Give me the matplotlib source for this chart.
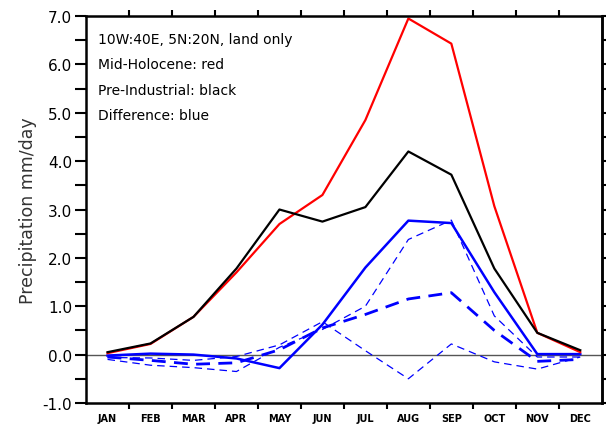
import numpy as np
import matplotlib
matplotlib.use("Agg")
import matplotlib.pyplot as plt
from matplotlib.ticker import MultipleLocator, FixedLocator

# monthly precipitation, mm/day
months = ["JAN", "FEB", "MAR", "APR", "MAY", "JUN", "JUL", "AUG", "SEP", "OCT", "NOV", "DEC"]
mid_holocene = [0.03, 0.22, 0.78, 1.70, 2.70, 3.30, 4.85, 6.95, 6.43, 3.07, 0.45, 0.05]
pre_industrial = [0.05, 0.23, 0.78, 1.78, 3.00, 2.75, 3.05, 4.20, 3.72, 1.78, 0.45, 0.09]
difference = [-0.02, 0.02, 0.00, -0.08, -0.28, 0.62, 1.80, 2.77, 2.72, 1.29, 0.01, 0.01]
diff_dash_thick = [-0.05, -0.12, -0.20, -0.17, 0.10, 0.55, 0.83, 1.15, 1.28, 0.50, -0.14, -0.10]
diff_dash_a = [-0.10, -0.22, -0.27, -0.35, 0.15, 0.52, 1.00, 2.38, 2.78, 0.80, -0.05, -0.05]
diff_dash_b = [-0.06, -0.07, -0.12, -0.04, 0.20, 0.68, 0.08, -0.50, 0.22, -0.15, -0.30, -0.05]

x = np.arange(len(months))

fig = plt.figure(figsize=(6.06, 4.27), dpi=100)
ax = fig.add_axes([0.142, 0.054, 0.851, 0.906])

ax.axhline(0, color="#555555", lw=1.0, zorder=1)

ax.plot(x, diff_dash_a, color="blue", lw=0.9, dashes=(6, 4))
ax.plot(x, diff_dash_b, color="blue", lw=0.9, dashes=(6, 4))
ax.plot(x, diff_dash_thick, color="blue", lw=2.0, dashes=(5, 3))
ax.plot(x, difference, color="blue", lw=1.8)
ax.plot(x, mid_holocene, color="red", lw=1.6)
ax.plot(x, pre_industrial, color="black", lw=1.6)

ax.set_xlim(-0.5, 11.5)
ax.set_ylim(-1.0, 7.0)

for s in ax.spines.values():
    s.set_linewidth(1.8)

# y axis ticks: long outward on the left, short on the right
ax.set_yticks(np.arange(-1, 8, 1.0))
ax.set_yticklabels(["%.1f" % v for v in np.arange(-1, 8, 1.0)], fontsize=11)
ax.yaxis.set_minor_locator(MultipleLocator(0.5))
ax.tick_params(axis="y", which="both", direction="out", length=8, width=1.5,
               right=False, pad=2)
ay = ax.secondary_yaxis("right")
ay.set_yticks(np.arange(-1, 7.5, 0.5))
ay.set_yticklabels([])
ay.tick_params(direction="out", length=4, width=1.5)
ay.spines["right"].set_linewidth(1.8)

# x axis: labels at month centres, ticks at month boundaries
ax.set_xticks(x)
ax.set_xticklabels(months, fontsize=7, fontweight="bold")
ax.tick_params(axis="x", which="major", length=0, pad=7)
ax.xaxis.set_minor_locator(FixedLocator(np.arange(0.5, 11.0, 1.0)))
ax.tick_params(axis="x", which="minor", direction="out", length=4, width=1.5,
               top=True, bottom=True)

ax.set_ylabel("Precipitation mm/day", fontsize=12.5, color="#333333", labelpad=4)

txt = ["10W:40E, 5N:20N, land only", "Mid-Holocene: red",
       "Pre-Industrial: black", "Difference: blue"]
for i, t in enumerate(txt):
    ax.text(0.024, 0.942 - i * 0.066, t, transform=ax.transAxes,
            fontsize=10, va="center", ha="left")

fig.savefig("out.png", dpi=100)
